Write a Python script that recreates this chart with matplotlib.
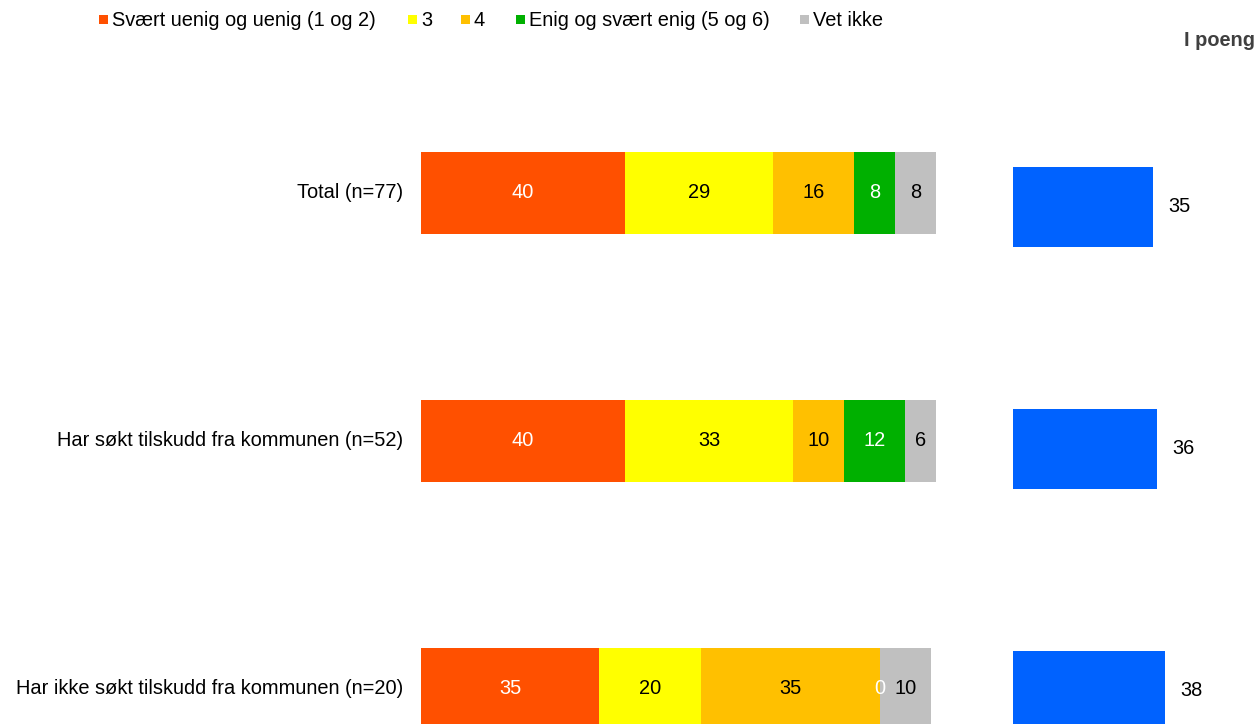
import matplotlib.pyplot as plt
import numpy as np
from matplotlib.patches import Rectangle

plt.rcParams["font.family"] = ["Liberation Sans", "DejaVu Sans"]

categories = [
    "Total (n=77)",
    "Har søkt tilskudd fra kommunen (n=52)",
    "Har ikke søkt tilskudd fra kommunen (n=20)",
]
series_names = ["Svært uenig og uenig (1 og 2)", "3", "4", "Enig og svært enig (5 og 6)", "Vet ikke"]
series_values = [
    [40, 40, 35],
    [29, 33, 20],
    [16, 10, 35],
    [8, 12, 0],
    [8, 6, 10],
]
colors = ["#FF5000", "#FFFF00", "#FFC000", "#00B000", "#C0C0C0"]
text_colors = ["white", "black", "black", "white", "black"]
points = [35, 36, 38]

W, H = 1258, 724
FS = 14.4
fig = plt.figure(figsize=(W / 100, H / 100), dpi=100)

# left stacked bars: 5.1 px per unit, starting at x=421
ax = fig.add_axes([421 / W, 0, 515 / W, 1])
ax.set_xlim(0, 101)
ax.set_ylim((H - 193) / 248, -193 / 248)
y = np.arange(len(categories))
left = np.zeros(len(categories))
for vals, col, tcol in zip(series_values, colors, text_colors):
    vals = np.array(vals, dtype=float)
    ax.barh(y, vals, left=left, height=0.33, color=col, edgecolor="none")
    for yi, v, l in zip(y, vals, left):
        ax.text(l + v / 2, yi, f"{v:.0f}", ha="center", va="center", fontsize=FS, color=tcol)
    left += vals
for yi, cat in zip(y, categories):
    ax.text(-18 / 5.1, yi, cat, ha="right", va="center", fontsize=FS, color="black")
ax.axis("off")

# right bars: mean score, ~4 px per unit starting at x=1013
ax2 = fig.add_axes([1013 / W, 0, 240 / W, 1])
ax2.set_xlim(0, 60)
ax2.set_ylim((H - 207) / 242, -207 / 242)
ax2.barh(y, points, height=0.33, color="#0062FF", edgecolor="none")
for yi, p in zip(y, points):
    ax2.text(p + 3.8, yi, f"{p}", ha="left", va="center", fontsize=FS, color="black")
ax2.axis("off")

fig.text(1255 / W, 1 - 40 / H, "I poeng", ha="right", va="center", fontsize=FS,
         fontweight="bold", color="#404040")

# legend drawn by hand, square markers followed by text
legend_x = [99, 408, 461, 516, 800]
for lx, name, col in zip(legend_x, series_names, colors):
    fig.patches.append(Rectangle((lx / W, 1 - 24 / H), 9 / W, 9 / H, transform=fig.transFigure,
                                 facecolor=col, edgecolor="none"))
    fig.text((lx + 13) / W, 1 - 20 / H, name, ha="left", va="center", fontsize=FS, color="black")

fig.savefig("out.png", dpi=100)
